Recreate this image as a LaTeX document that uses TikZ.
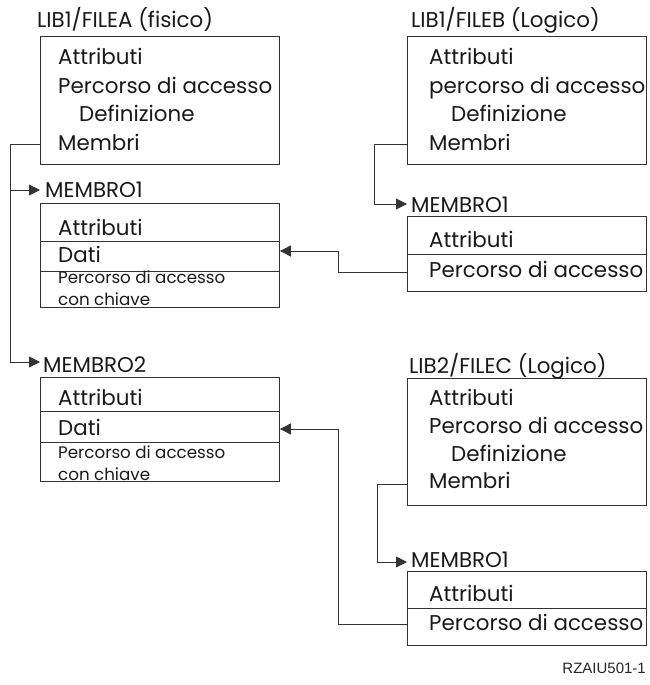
\documentclass[tikz,border=0pt]{standalone}
\usepackage{fontspec}
\setmainfont{Poppins}
\newfontfamily\footfont{Liberation Sans}
\usetikzlibrary{arrows.meta,calc}
\tikzset{
  box/.style={draw=black!80,line width=0.9pt,rectangle,inner sep=0pt,anchor=north west},
  txt/.style={anchor=base west,inner sep=0pt,font=\fontsize{21.4}{23}\selectfont,text=black!90},
  small/.style={anchor=base west,inner sep=0pt,font=\fontsize{16.7}{18}\selectfont,text=black!90},
  conn/.style={draw=black!80,line width=0.9pt},
  arr/.style={conn,-{Triangle[length=11pt,width=11pt]}},
  divider/.style={draw=black!80,line width=0.9pt}
}
\begin{document}
\begin{tikzpicture}[x=1pt,y=-1pt]
\useasboundingbox (0,0) rectangle (650,685);
% Boxes
\node[box,minimum width=239pt,minimum height=128pt] (A) at (40,36) {};
\node[box,minimum width=239pt,minimum height=128pt] (B) at (407,36) {};
\node[box,minimum width=239pt,minimum height=104pt] (M1) at (40,203) {};
\node[box,minimum width=239pt,minimum height=75pt] (M1B) at (407,216) {};
\node[box,minimum width=239pt,minimum height=104pt] (M2) at (40,377) {};
\node[box,minimum width=239pt,minimum height=127pt] (C) at (407,378) {};
\node[box,minimum width=239pt,minimum height=74pt] (M1C) at (407,571) {};
% dividers
\draw[divider] (M1.west |- 0,241) -- (M1.east |- 0,241);
\draw[divider] (M1.west |- 0,271) -- (M1.east |- 0,271);
\draw[divider] (M1B.west |- 0,254) -- (M1B.east |- 0,254);
\draw[divider] (M2.west |- 0,411) -- (M2.east |- 0,411);
\draw[divider] (M2.west |- 0,442) -- (M2.east |- 0,442);
\draw[divider] (M1C.west |- 0,608) -- (M1C.east |- 0,608);
% Titles
\node[txt] (tA) at (37,28) {LIB1/FILEA (fisico)};
\node[txt] (tB) at (411,28) {LIB1/FILEB (Logico)};
\node[txt] (tC) at (409,373) {LIB2/FILEC (Logico)};
% Box A text
\node[txt] (aA) at (58,64) {Attributi};
\node[txt] (pA) at (58,93) {Percorso di accesso};
\node[txt] (dA) at (79,121) {Definizione};
\node[txt] (mA) at (58,150) {Membri};
% Box B text
\node[txt] (aB) at (429,64) {Attributi};
\node[txt] (pB) at (429,93) {percorso di accesso};
\node[txt] (dB) at (451,121) {Definizione};
\node[txt] (mB) at (429,150) {Membri};
% Box C text
\node[txt] (aC) at (429,405) {Attributi};
\node[txt] (pC) at (429,433) {Percorso di accesso};
\node[txt] (dC) at (451,461) {Definizione};
\node[txt] (mC) at (429,488) {Membri};
% Member labels
\node[txt] (l1) at (45,197) {MEMBRO1};
\node[txt] (l2) at (43,372) {MEMBRO2};
\node[txt] (l1B) at (411,212) {MEMBRO1};
\node[txt] (l1C) at (411,567) {MEMBRO1};
% M1 text
\node[txt] (m1a) at (58,235) {Attributi};
\node[txt] (m1d) at (58,262) {Dati};
\node[small] (m1p) at (58,283) {Percorso di accesso};
\node[small] (m1k) at (58,305) {con chiave};
% M2 text
\node[txt] (m2a) at (58,405) {Attributi};
\node[txt] (m2d) at (58,435) {Dati};
\node[small] (m2p) at (58,458) {Percorso di accesso};
\node[small] (m2k) at (58,480) {con chiave};
% M1B text
\node[txt] (m1ba) at (429,247) {Attributi};
\node[txt] (m1bp) at (429,277) {Percorso di accesso};
% M1C text
\node[txt] (m1ca) at (429,601) {Attributi};
\node[txt] (m1cp) at (429,630) {Percorso di accesso};
% footer
\node[anchor=base east,inner sep=0pt,font=\footfont\fontsize{15}{17}\selectfont,text=black!85] (foot) at (646,673) {RZAIU501-1};
% connector coordinates
\coordinate (trA) at (10,144);
\coordinate (j1) at (10,190);
\coordinate (j2) at (10,362);
\coordinate (trB) at (374,144);
\coordinate (jB) at (374,204);
\coordinate (trC) at (377,484);
\coordinate (jC) at (377,562);
\coordinate (d1) at (338,272);
\coordinate (d1u) at (338,251);
\coordinate (d2) at (338,624);
\coordinate (d2u) at (338,429);
% connectors
\draw[conn] (A.west |- trA) -- (trA) -- (j2);
\draw[arr] (j1) -- (41,190 -| M1.west);
\draw[arr] (j2) -- (M2.west |- j2);
\draw[arr] (B.west |- trB) -- (trB) -- (jB) -- (B.west |- jB);
\draw[arr] (C.west |- trC) -- (trC) -- (jC) -- (C.west |- jC);
\draw[arr] (M1B.west |- d1) -- (d1) -- (d1u) -- (M1.east |- d1u);
\draw[arr] (M1C.west |- d2) -- (d2) -- (d2u) -- (M2.east |- d2u);
\end{tikzpicture}
\end{document}
